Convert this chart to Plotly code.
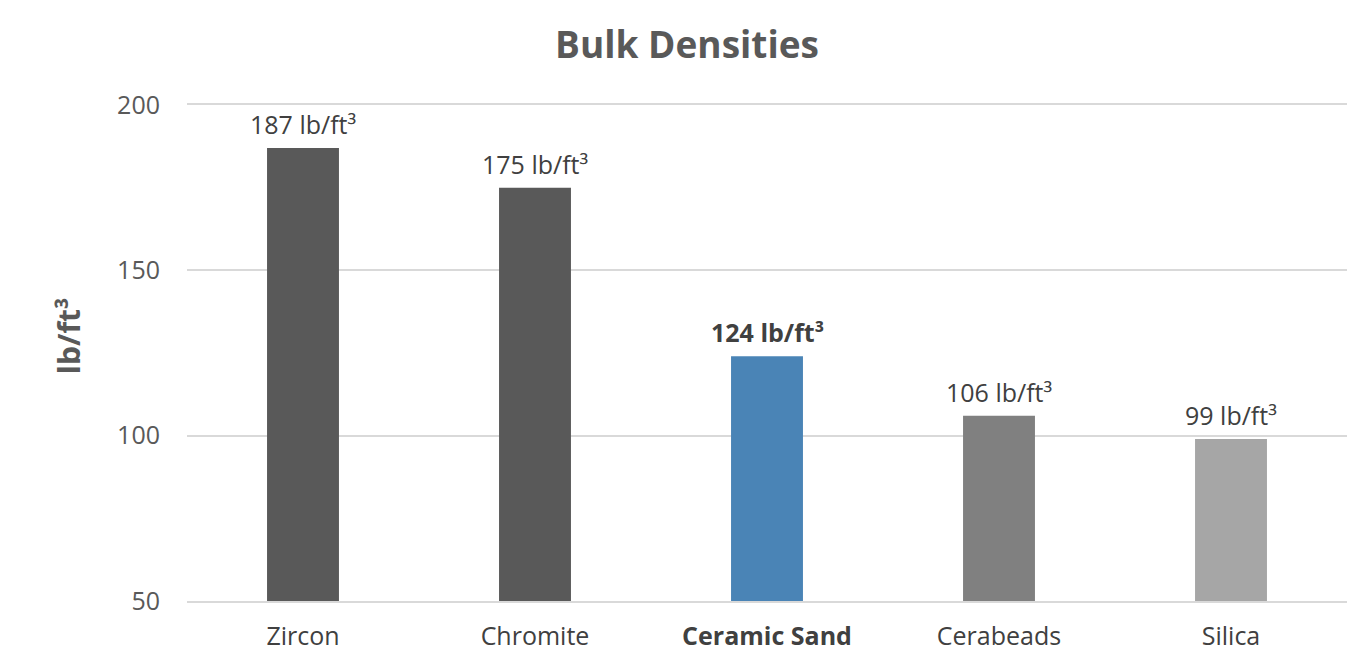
import plotly.graph_objects as go

categories = ["Zircon", "Chromite", "Ceramic Sand", "Cerabeads", "Silica"]
values = [187, 175, 124, 106, 99]
labels = ["187 lb/ft³", "175 lb/ft³", "<b>124 lb/ft³</b>", "106 lb/ft³", "99 lb/ft³"]
tick_text = ["Zircon", "Chromite", "<b>Ceramic Sand</b>", "Cerabeads", "Silica"]
colors = ["#595959", "#595959", "#4a84b6", "#808080", "#a6a6a6"]
y_ticks = [50, 100, 150, 200]

FONT = "Open Sans"
GRID = "#d9d9d9"

fig = go.Figure(go.Bar(
    x=categories, y=values,
    marker=dict(color=colors, line=dict(width=0)),
    width=0.31, hoverinfo="x+y",
))

for cat, val, lab in zip(categories, values, labels):
    fig.add_annotation(
        x=cat, y=val, text=lab, showarrow=False,
        xanchor="center", yanchor="bottom", yshift=5,
        font=dict(family=FONT, size=25, color="#404040"),
    )

fig.add_annotation(
    xref="paper", yref="paper", x=-0.1026, y=0.536,
    text="<b>lb/ft³</b>", textangle=-90, showarrow=False,
    xanchor="center", yanchor="middle",
    font=dict(family=FONT, size=30, color="#595959"),
)

fig.update_layout(
    width=1358, height=661,
    paper_bgcolor="white", plot_bgcolor="white",
    margin=dict(l=179, r=19, t=97, b=68),
    title=dict(text="<b>Bulk Densities</b>", x=0.5, xanchor="center",
               y=1 - 37 / 661, yanchor="middle",
               font=dict(family=FONT, size=37, color="#595959")),
    showlegend=False,
    font=dict(family=FONT, color="#595959"),
)
fig.update_xaxes(
    tickmode="array", tickvals=categories, ticktext=tick_text,
    tickfont=dict(family=FONT, size=25, color="#404040"),
    showline=True, linecolor=GRID, linewidth=1.5, mirror=True,
    showgrid=False, ticks="", ticklabelstandoff=12,
)
fig.update_yaxes(
    range=[50, 200], tickvals=y_ticks,
    tickfont=dict(family=FONT, size=25, color="#595959"),
    showgrid=True, gridcolor=GRID, gridwidth=1.5, zeroline=False,
    showline=False, ticks="", ticklabelstandoff=26,
)

fig.write_html("out.html")
